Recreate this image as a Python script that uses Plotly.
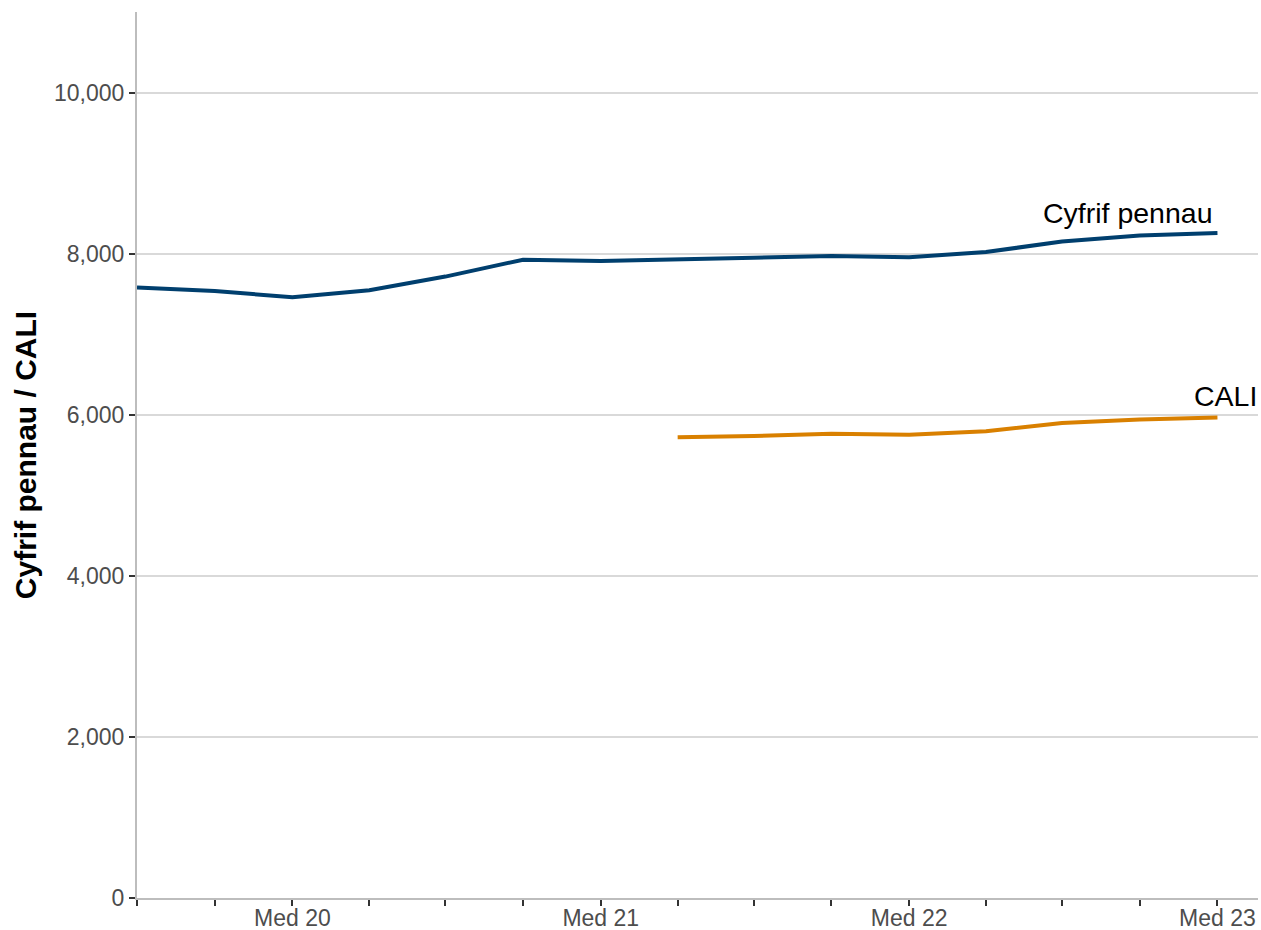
import plotly.graph_objects as go

quarters = ["2020-03-01", "2020-06-01", "2020-09-01", "2020-12-01", "2021-03-01",
            "2021-06-01", "2021-09-01", "2021-12-01", "2022-03-01", "2022-06-01",
            "2022-09-01", "2022-12-01", "2023-03-01", "2023-06-01", "2023-09-01"]
headcount = [7580, 7535, 7460, 7545, 7715, 7925, 7910, 7935, 7950, 7970,
             7955, 8020, 8150, 8225, 8255]
cali_dates = quarters[7:]
cali = [5720, 5735, 5765, 5752, 5796, 5898, 5942, 5965]

tick_vals = quarters
tick_text = ["", "", "Med 20", "", "", "", "Med 21", "", "", "", "Med 22", "", "", "", "Med 23"]
y_ticks = [0, 2000, 4000, 6000, 8000, 10000]

BLUE = "#003f6e"
ORANGE = "#d98000"
FONT = "Liberation Sans, Arial, sans-serif"

fig = go.Figure()
fig.add_trace(go.Scatter(x=quarters, y=headcount, mode="lines",
                         line=dict(color=BLUE, width=4), name="Cyfrif pennau",
                         showlegend=False))
fig.add_trace(go.Scatter(x=cali_dates, y=cali, mode="lines",
                         line=dict(color=ORANGE, width=4), name="CALI",
                         showlegend=False))

fig.add_annotation(x=quarters[-1], y=headcount[-1] + 250, text="Cyfrif pennau",
                   showarrow=False, xanchor="right", yanchor="middle", xshift=-2,
                   font=dict(family=FONT, size=28.5, color="black"))
fig.add_annotation(x=cali_dates[-1], y=cali[-1] + 270, text="CALI",
                   showarrow=False, xanchor="right", yanchor="middle", xshift=42,
                   font=dict(family=FONT, size=28.5, color="black"))

fig.update_layout(
    width=1261, height=930,
    margin=dict(l=137, r=3, t=12, b=32),
    paper_bgcolor="white", plot_bgcolor="white",
    font=dict(family=FONT, size=23, color="#4d4d4d"),
    xaxis=dict(
        type="date",
        range=["2020-03-01", "2023-10-19"],
        tickmode="array", tickvals=tick_vals, ticktext=tick_text,
        ticks="outside", ticklen=6, tickwidth=2, tickcolor="#333333",
        showgrid=False, showline=True, linecolor="#bdbdbd", linewidth=2,
        zeroline=False, tickfont=dict(size=23, color="#4d4d4d"),
        ticklabelstandoff=-8,
        automargin=False,
    ),
    yaxis=dict(
        range=[0, 11000],
        tickmode="array", tickvals=y_ticks,
        tickformat=",d",
        ticks="outside", ticklen=6, tickwidth=2, tickcolor="#333333",
        showgrid=True, gridcolor="#d9d9d9", gridwidth=2,
        showline=True, linecolor="#bdbdbd", linewidth=2,
        zeroline=False, tickfont=dict(size=23, color="#4d4d4d"),
        automargin=False,
        title=dict(text="<b>Cyfrif pennau / CALI</b>",
                   font=dict(size=30, color="black"), standoff=9),
    ),
)

fig.write_html("out.html", config={"displayModeBar": False},
               post_script="document.body.style.margin='0';document.body.style.overflow='hidden';")
